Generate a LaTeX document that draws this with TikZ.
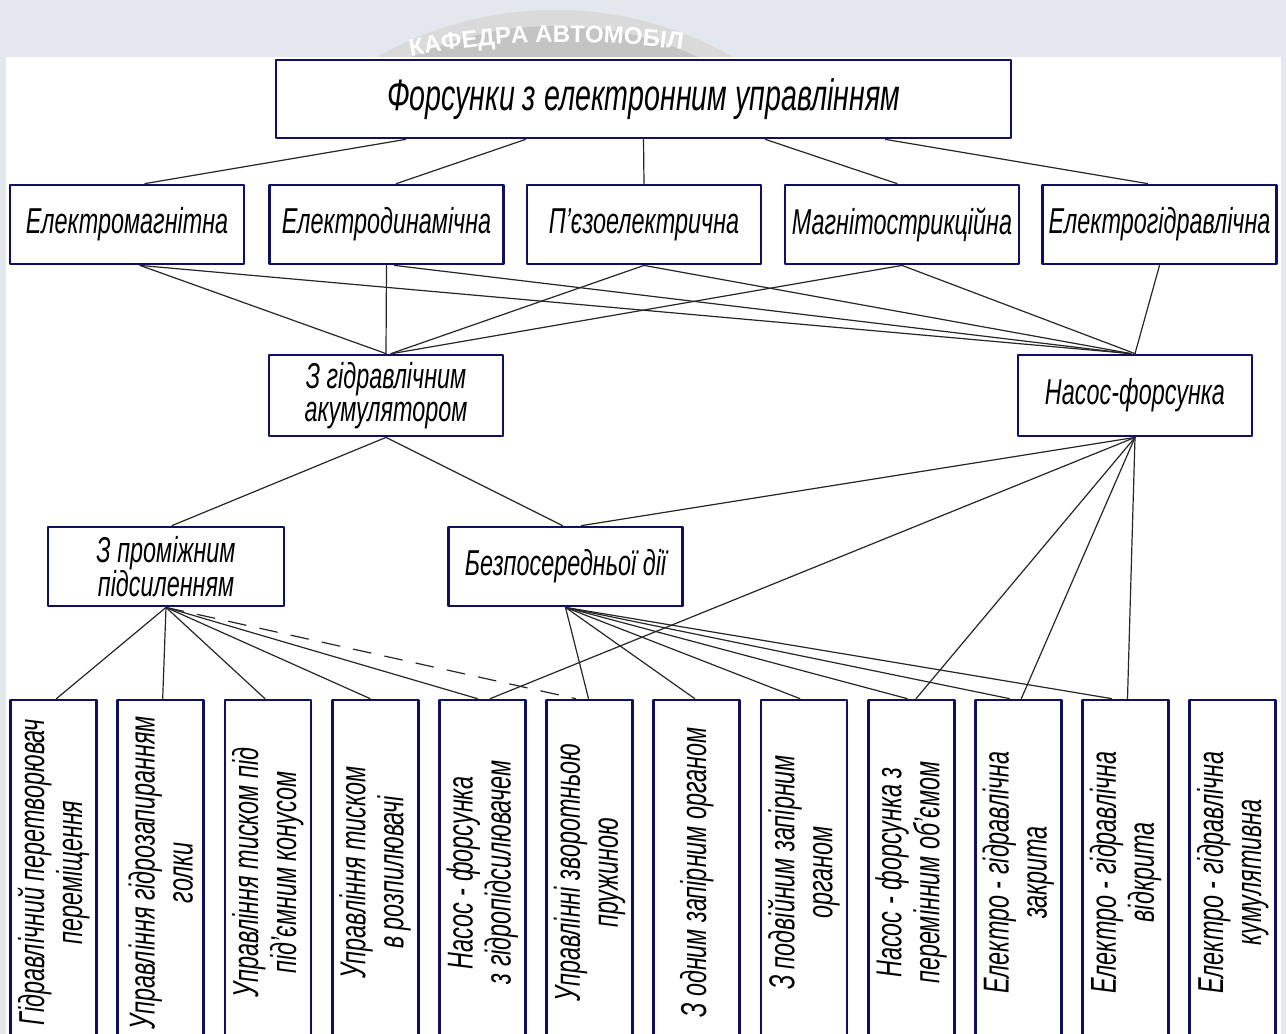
\documentclass[tikz,border=0pt]{standalone}
\usepackage{fontspec}
\newfontfamily\cadfont{Liberation Sans}[FakeStretch=0.65]
\newfontfamily\markfont{Liberation Sans}
\usetikzlibrary{decorations.text}
\definecolor{frame}{RGB}{16,16,96}
\definecolor{paper}{RGB}{226,232,238}
\definecolor{sealout}{RGB}{218,218,218}
\definecolor{sealin}{RGB}{196,196,196}
\tikzset{
  box/.style={draw=frame, line width=2.8pt, fill=white, minimum height=79pt, minimum width=234pt, align=center, inner sep=0pt, font=\cadfont\itshape\fontsize{36}{33}\selectfont},
  leaf/.style={draw=frame, line width=2.8pt, fill=white, minimum width=86pt, minimum height=345pt, inner sep=0pt},
  leaftext/.style={rotate=90, align=center, inner sep=0pt, font=\cadfont\itshape\fontsize{36}{38}\selectfont},
  link/.style={line width=1.2pt, black!85}
}
\begin{document}
\begin{tikzpicture}[x=1pt, y=-1pt, line join=round, line cap=round]
\useasboundingbox (0,0) rectangle (1286,1034);
\clip (0,0) rectangle (1286,1034);
\fill[paper] (0,0) rectangle (1286,1034);
\fill[sealout] (555,370) circle[radius=360];
\fill[sealin] (555,370) circle[radius=344];
\begin{scope}[shift={(565,897)}, y=1pt]
  \path[decorate, decoration={text along path, text align=left, text={|\markfont\bfseries\fontsize{24}{24}\selectfont\color{white}|КАФЕДРА АВТОМОБІЛ}}] (100.4:855) arc[start angle=100.4, end angle=75, radius=855];
\end{scope}
\fill[white] (6,57) rectangle (1281,1040);

\node[box, minimum width=735pt, minimum height=78pt, font=\cadfont\itshape\fontsize{44}{44}\selectfont] (root) at (643.5,99) {Форсунки з електронним управлінням};
\node[box] (emag) at (127,224.5) {Електромагнітна};
\node[box] (edyn) at (386.5,224.5) {Електродинамічна};
\node[box] (piezo) at (644,224.5) {П’єзоелектрична};
\node[box] (magn) at (902,224.5) {Магнітострикційна};
\node[box] (ehyd) at (1159.5,224.5) {Електрогідравлічна};
\node[box, minimum height=81pt] (accum) at (386,395.5) {З гідравлічним\\акумулятором};
\node[box, minimum height=81pt] (pump) at (1135,395.5) {Насос-форсунка};
\node[box, minimum width=236pt] (boost) at (166,566.5) {З проміжним\\підсиленням};
\node[box] (direct) at (565.5,566.5) {Безпосередньої дії};

\node[leaf, label={[leaftext]center:{Гідравлічний перетворювач\\переміщення}}] (hconv) at (53.5,872.5) {};
\node[leaf, label={[leaftext]center:{Управління гідрозапиранням\\голки}}] (needle) at (160.7,872.5) {};
\node[leaf, label={[leaftext]center:{Управління тиском під\\під’ємним конусом}}] (cone) at (267.9,872.5) {};
\node[leaf, label={[leaftext]center:{Управління тиском\\в розпилювачі}}] (nozzle) at (375.1,872.5) {};
\node[leaf, label={[leaftext]center:{Насос - форсунка\\з гідропідсилювачем}}] (pumphyd) at (482.3,872.5) {};
\node[leaf, label={[leaftext]center:{Управлінні зворотньою\\пружиною}}] (spring) at (589.5,872.5) {};
\node[leaf, label={[leaftext]center:{З одним запірним органом}}] (single) at (696.7,872.5) {};
\node[leaf, label={[leaftext]center:{З подвійним запірним\\органом}}] (double) at (803.9,872.5) {};
\node[leaf, label={[leaftext]center:{Насос - форсунка з\\перемінним об’ємом}}] (pumpvar) at (911.1,872.5) {};
\node[leaf, label={[leaftext]center:{Електро - гідравлічна\\закрита}}] (closed) at (1018.3,872.5) {};
\node[leaf, label={[leaftext]center:{Електро - гідравлічна\\відкрита}}] (open) at (1125.5,872.5) {};
\node[leaf, label={[leaftext]center:{Електро - гідравлічна\\кумулятивна}}] (cumul) at (1232.7,872.5) {};

\draw[link] ([xshift=-238pt]root.south) -- ([xshift=18pt]emag.north);
\draw[link] ([xshift=-118pt]root.south) -- ([xshift=10pt]edyn.north);
\draw[link] (root.south) -- (piezo.north);
\draw[link] ([xshift=122pt]root.south) -- ([xshift=-5pt]magn.north);
\draw[link] ([xshift=242pt]root.south) -- ([xshift=-12pt]ehyd.north);

\draw[link] ([xshift=13pt]emag.south) -- (accum.north);
\draw[link] ([xshift=13pt]emag.south) -- ([xshift=-4pt]pump.north);
\draw[link] (edyn.south) -- (accum.north);
\draw[link] ([xshift=8pt]edyn.south) -- ([xshift=-6pt]pump.north);
\draw[link] (piezo.south) -- ([xshift=5pt]accum.north);
\draw[link] (piezo.south) -- ([xshift=-4pt]pump.north);
\draw[link] (magn.south) -- ([xshift=6pt]accum.north);
\draw[link] (magn.south) -- (pump.north);
\draw[link] (ehyd.south) -- (pump.north);

\draw[link] (accum.south) -- ([xshift=6pt]boost.north);
\draw[link] (accum.south) -- ([xshift=-3pt]direct.north);
\draw[link] (pump.south) -- ([xshift=16pt]direct.north);
\draw[link] (pump.south) -- ([xshift=8pt]pumphyd.north);
\draw[link] (pump.south) -- ([xshift=5pt]pumpvar.north);
\draw[link] (pump.south) -- ([xshift=3pt]closed.north);
\draw[link] (pump.south) -- ([xshift=2pt]open.north);

\draw[link] (boost.south) -- ([xshift=3pt]hconv.north);
\draw[link] (boost.south) -- ([xshift=2pt]needle.north);
\draw[link] (boost.south) -- ([xshift=-3pt]cone.north);
\draw[link] (boost.south) -- ([xshift=-5pt]nozzle.north);
\draw[link] (boost.south) -- ([xshift=-5pt]pumphyd.north);
\draw[link, dash pattern=on 18pt off 14pt] (boost.south) -- ([xshift=-14pt]spring.north);

\draw[link] (direct.south) -- ([xshift=-1pt]spring.north);
\draw[link] (direct.south) -- ([xshift=-2pt]single.north);
\draw[link] (direct.south) -- ([xshift=-4pt]double.north);
\draw[link] (direct.south) -- ([xshift=-4pt]pumpvar.north);
\draw[link] (direct.south) -- ([xshift=-9pt]closed.north);
\draw[link] (direct.south) -- ([xshift=-14pt]open.north);
\end{tikzpicture}
\end{document}
